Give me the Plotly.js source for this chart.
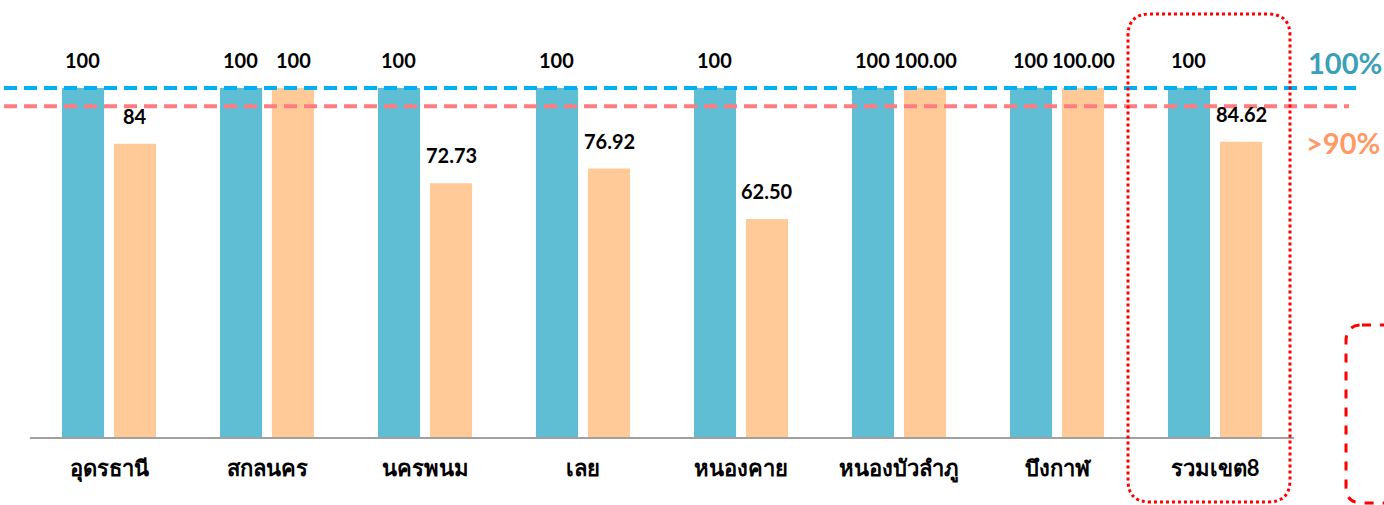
<!DOCTYPE html>
<html><head><meta charset="utf-8">
<script src="https://cdn.plot.ly/plotly-3.0.1.min.js"></script>
<style>html,body{margin:0;padding:0;background:#fff;}#chart{width:1384px;height:505px;}</style>
</head><body><div id="chart"></div>
<script>
const categories = ["อุดรธานี","สกลนคร","นครพนม","เลย","หนองคาย","หนองบัวลำภู","บึงกาฬ","รวมเขต8"];
const targetValues = [100,100,100,100,100,100,100,100];
const resultValues = [84,100,72.73,76.92,62.50,100,100,84.62];
const targetLabels = ["100","100","100","100","100","100","100","100"];
const resultLabels = ["84","100","72.73","76.92","62.50","100.00","100.00","84.62"];
const refLines = [100, 94.8];

const FONT = "Lato, 'Noto Sans', 'DejaVu Sans', sans-serif";
const L=30, R=90, T=10, B=68, W=1384, H=505;
const pw = W-L-R, ph = H-T-B;
const px = v => (v-L)/pw, py = v => (H-B-v)/ph;

function roundRect(x0,y0,x1,y1,r){
  const rx=r/pw, ry=r/ph;
  const a=px(x0), b=px(x1), top=py(y0), bot=py(y1);
  return `M ${a+rx},${top} L ${b-rx},${top} Q ${b},${top} ${b},${top-ry} L ${b},${bot+ry} Q ${b},${bot} ${b-rx},${bot} L ${a+rx},${bot} Q ${a},${bot} ${a},${bot+ry} L ${a},${top-ry} Q ${a},${top} ${a+rx},${top} Z`;
}

const traces = [
  {type:'bar', x:categories, y:targetValues, marker:{color:'#5FBDD4'}, hoverinfo:'none'},
  {type:'bar', x:categories, y:resultValues, marker:{color:'#FFCA98'}, hoverinfo:'none'}
];

const annotations = [];
categories.forEach((c,i)=>{
  annotations.push({x:i-0.165, y:targetValues[i], xref:'x', yref:'y', text:targetLabels[i], showarrow:false, yshift:28, yanchor:'middle', font:{family:FONT, size:20, color:'#000', weight:700}});
  annotations.push({x:i+0.165, y:resultValues[i], xref:'x', yref:'y', text:resultLabels[i], showarrow:false, yshift:28, yanchor:'middle', font:{family:FONT, size:20, color:'#000', weight:700}});
});
annotations.push({xref:'paper', yref:'paper', x:px(1345), y:py(62), text:'100%', showarrow:false, xanchor:'center', yanchor:'middle', font:{family:FONT, size:29, color:'#3AA0B8', weight:700}});
annotations.push({xref:'paper', yref:'paper', x:px(1343), y:py(142), text:'>90%', showarrow:false, xanchor:'center', yanchor:'middle', font:{family:FONT, size:29, color:'#FF9966', weight:700}});

const shapes = [
  {type:'line', xref:'paper', yref:'y', x0:px(4), x1:px(1356), y0:refLines[0], y1:refLines[0], line:{color:'#00B0F0', width:4, dash:'13px,7px'}},
  {type:'line', xref:'paper', yref:'y', x0:px(4), x1:px(1349), y0:refLines[1], y1:refLines[1], line:{color:'#FF7C80', width:4, dash:'13px,7px'}},
  {type:'path', xref:'paper', yref:'paper', path:roundRect(1128,14,1290,502,22), line:{color:'#FF0000', width:3, dash:'dot'}},
  {type:'path', xref:'paper', yref:'paper', path:roundRect(1346,325,1420,503,16), line:{color:'#FF0000', width:3, dash:'dash'}}
];

const layout = {
  width:W, height:H, margin:{l:L, r:R, t:T, b:B},
  paper_bgcolor:'#fff', plot_bgcolor:'#fff',
  barmode:'group', bargap:0.342, bargroupgap:0.19,
  showlegend:false,
  xaxis:{type:'category', range:[-0.5,7.5], showline:true, linecolor:'#A0A0A0', linewidth:1.5, showgrid:false, zeroline:false,
         ticks:'outside', ticklen:11, tickcolor:'rgba(0,0,0,0)', tickfont:{family:FONT, size:22, color:'#000', weight:700}, fixedrange:true},
  yaxis:{range:[0, ph/349*100], visible:false, showgrid:false, zeroline:false, fixedrange:true},
  annotations:annotations, shapes:shapes
};
Plotly.newPlot('chart', traces, layout, {displayModeBar:false, staticPlot:true});
</script></body></html>
